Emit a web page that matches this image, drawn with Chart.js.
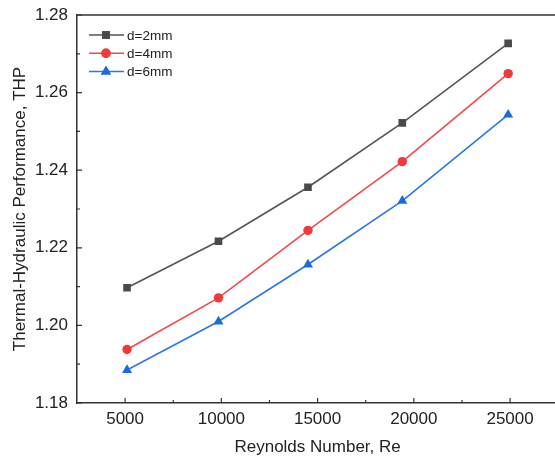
<!DOCTYPE html>
<html>
<head>
<meta charset="utf-8">
<script src="https://cdn.jsdelivr.net/npm/chart.js@4.4.1/dist/chart.umd.min.js"></script>
<style>
  html, body { margin: 0; padding: 0; background: #fff; overflow: hidden; }
  canvas { display: block; }
</style>
</head>
<body>
<canvas id="chart" width="564" height="459"></canvas>
<script>
// Reynolds number (x) and THP for each hole diameter
const reynolds = [5100, 9850, 14500, 19400, 24900];
const thp2mm = [1.2097, 1.2217, 1.2356, 1.2522, 1.2727];
const thp4mm = [1.1938, 1.2071, 1.2245, 1.2422, 1.2649];
const thp6mm = [1.1885, 1.2010, 1.2157, 1.2321, 1.2543];
const seriesNames = ["d=2mm", "d=4mm", "d=6mm"];
const xTicks = [5000, 10000, 15000, 20000, 25000];
const yTicks = [1.18, 1.20, 1.22, 1.24, 1.26, 1.28];

const axisColor = "#333";
const font = { family: "'Liberation Sans', Arial, sans-serif", size: 17 };

const toPts = ys => reynolds.map((x, i) => ({ x: x, y: ys[i] }));

// inward ticks (major + minor), top border, and legend inside the plot
const decor = {
    id: "decor",
    afterDraw(chart) {
        const ctx = chart.ctx, area = chart.chartArea;
        const xs = chart.scales.x, ys = chart.scales.y;
        ctx.save();
        ctx.strokeStyle = axisColor;
        ctx.lineWidth = 1.5;
        ctx.beginPath();
        ctx.moveTo(area.left, area.top);
        ctx.lineTo(area.right, area.top);
        ctx.lineTo(area.right, area.bottom);
        ctx.stroke();

        ctx.lineWidth = 1.2;
        ctx.beginPath();
        xTicks.forEach(v => {
            const px = xs.getPixelForValue(v);
            ctx.moveTo(px, area.bottom); ctx.lineTo(px, area.bottom - 5);
            const m = xs.getPixelForValue(v + 2500);
            ctx.moveTo(m, area.bottom); ctx.lineTo(m, area.bottom - 3);
        });
        yTicks.forEach((v, i) => {
            const py = ys.getPixelForValue(v);
            ctx.moveTo(area.left, py); ctx.lineTo(area.left + 5, py);
            if (i < yTicks.length - 1) {
                const m = ys.getPixelForValue((v + yTicks[i + 1]) / 2);
                ctx.moveTo(area.left, m); ctx.lineTo(area.left + 3, m);
            }
        });
        ctx.stroke();

        // legend
        ctx.font = "13.5px 'Liberation Sans', Arial, sans-serif";
        ctx.textBaseline = "middle";
        chart.data.datasets.forEach((ds, i) => {
            const y = area.top + 20 + i * 18.3;
            const x0 = area.left + 12;
            ctx.strokeStyle = ds.borderColor;
            ctx.lineWidth = 1.5;
            ctx.beginPath();
            ctx.moveTo(x0, y); ctx.lineTo(x0 + 35, y);
            ctx.stroke();
            ctx.fillStyle = ds.backgroundColor;
            Chart.helpers.drawPoint(ctx, {
                pointStyle: ds.pointStyle, radius: ds.pointRadius,
                rotation: 0, borderWidth: 0
            }, x0 + 17, y);
            ctx.fill();
            ctx.fillStyle = "#222";
            ctx.fillText(ds.label, x0 + 38, y + 1);
        });
        ctx.restore();
    }
};

new Chart(document.getElementById("chart"), {
    type: "line",
    data: {
        datasets: [
            { label: seriesNames[0], data: toPts(thp2mm), borderColor: "#555555", backgroundColor: "#4a4a4a",
              pointStyle: "rect", pointRadius: 5.4 },
            { label: seriesNames[1], data: toPts(thp4mm), borderColor: "#f24a4a", backgroundColor: "#f03a3a",
              pointStyle: "circle", pointRadius: 4.7 },
            { label: seriesNames[2], data: toPts(thp6mm), borderColor: "#2a78e4", backgroundColor: "#1a6be0",
              pointStyle: "triangle", pointRadius: 5.8 }
        ].map(d => Object.assign(d, { borderWidth: 1.6, tension: 0, pointBorderWidth: 0, pointHoverRadius: d.pointRadius }))
    },
    options: {
        responsive: false,
        maintainAspectRatio: false,
        animation: false,
        layout: { padding: { top: 15, left: 10, right: 0, bottom: 0 } },
        plugins: { legend: { display: false }, tooltip: { enabled: false } },
        scales: {
            x: {
                type: "linear", min: 2500, max: 27500,
                afterBuildTicks: s => { s.ticks = xTicks.map(v => ({ value: v })); },
                afterFit: s => { s.height = 56; s.paddingLeft = 0; s.paddingRight = 0; },
                grid: { display: false, drawTicks: false },
                border: { display: true, color: axisColor, width: 1.5 },
                ticks: { color: "#222", font: font, padding: 6, maxRotation: 0, callback: v => String(v) },
                title: { display: true, text: "Reynolds Number, Re", color: "#222", font: font, padding: { top: 3, bottom: 1 } }
            },
            y: {
                min: 1.18, max: 1.28,
                afterBuildTicks: s => { s.ticks = yTicks.map(v => ({ value: v })); },
                afterFit: s => { s.width = 67; s.paddingTop = 0; s.paddingBottom = 0; },
                grid: { display: false, drawTicks: false },
                border: { display: true, color: axisColor, width: 1.5 },
                ticks: { color: "#222", font: font, padding: 9, callback: v => Number(v).toFixed(2) },
                title: { display: true, text: "Thermal-Hydraulic Performance, THP", color: "#222", font: font, padding: { top: 0, bottom: 0 } }
            }
        }
    },
    plugins: [decor]
});
</script>
</body>
</html>
